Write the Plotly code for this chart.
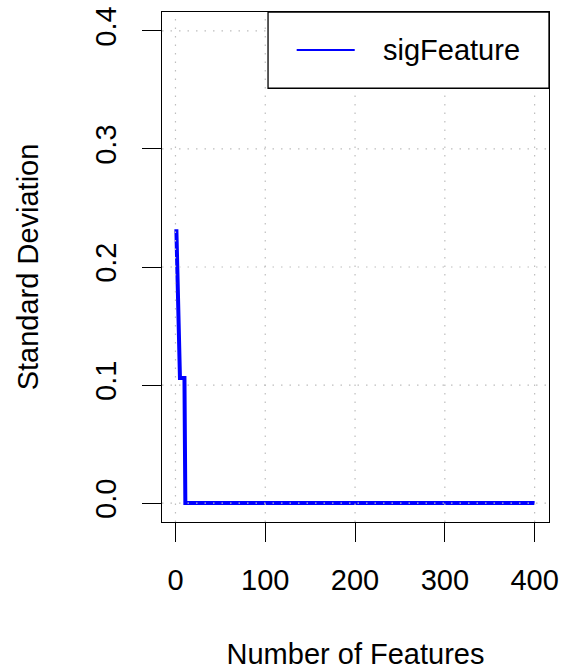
import plotly.graph_objects as go

# ---- data ----
n_features = [1, 5, 10, 11, 400]
std_dev = [0.232, 0.106, 0.106, 0.0, 0.0]
series_name = "sigFeature"

x_ticks = [0, 100, 200, 300, 400]
y_ticks = [0.0, 0.1, 0.2, 0.3, 0.4]
y_tick_labels = ["0.0", "0.1", "0.2", "0.3", "0.4"]

x_title = "Number of Features"
y_title = "Standard Deviation"

FONT = "Liberation Sans, Arial, Helvetica, sans-serif"
FS = 29
BLUE = "#0000FF"

fig = go.Figure()
fig.add_trace(go.Scatter(
    x=n_features, y=std_dev, mode="lines", name=series_name,
    line=dict(color=BLUE, width=4), showlegend=False,
))

# dotted grid drawn above the trace (as in the reference)
grid_style = dict(color="#BEBEBE", width=1.2, dash="1.5px,7px")
for xv in x_ticks:
    fig.add_shape(type="line", xref="x", yref="paper", x0=xv, x1=xv, y0=0, y1=1,
                  line=grid_style, layer="above")
for yv in y_ticks:
    fig.add_shape(type="line", xref="paper", yref="y", x0=0, x1=1, y0=yv, y1=yv,
                  line=grid_style, layer="above")

# legend box (top-right, sharing plot border)
fig.add_shape(type="rect", xref="paper", yref="paper", x0=0.274, x1=1.0, y0=0.8505, y1=1.0,
              line=dict(color="black", width=1.3), fillcolor="white", layer="above")
fig.add_shape(type="line", xref="paper", yref="paper", x0=0.348, x1=0.498, y0=0.9255, y1=0.9255,
              line=dict(color=BLUE, width=2), layer="above")
fig.add_annotation(xref="paper", yref="paper", x=0.566, y=0.9255, xanchor="left", yanchor="middle",
                   text=series_name, showarrow=False, font=dict(family=FONT, size=FS, color="black"))

axis_common = dict(
    showline=True, linecolor="black", linewidth=1.3, mirror=True,
    ticks="outside", ticklen=19, tickwidth=1.3, tickcolor="black",
    showgrid=False, zeroline=False, ticklabeloverflow="allow",
    tickfont=dict(family=FONT, size=FS, color="black"),
)

fig.update_xaxes(range=[-15.0, 416.0], tickvals=x_ticks, ticklabelstandoff=13,
                 title=dict(text=x_title, font=dict(family=FONT, size=FS, color="black"), standoff=64),
                 **axis_common)
fig.update_yaxes(range=[-0.016, 0.416], tickvals=y_ticks, ticktext=y_tick_labels, tickangle=-90,
                 ticklabelstandoff=14,
                 title=dict(text=y_title, font=dict(family=FONT, size=FS, color="black"), standoff=43),
                 **axis_common)

fig.update_layout(
    width=563, height=670,
    margin=dict(l=162, r=14, t=12, b=148, autoexpand=False),
    paper_bgcolor="white", plot_bgcolor="white",
    font=dict(family=FONT, size=FS, color="black"),
    showlegend=False,
)

fig.write_html(
    "out.html",
    config={"displayModeBar": False},
    post_script="document.body.style.margin='0px'; document.body.style.overflow='hidden';",
)
